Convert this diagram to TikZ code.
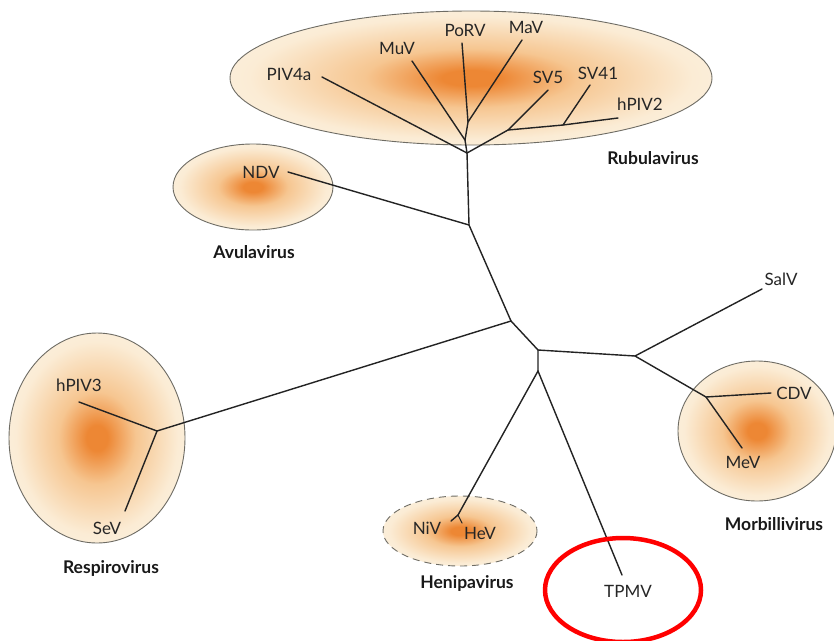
\documentclass[tikz,border=0pt]{standalone}
\usepackage{fontspec}
\setmainfont{Lato}
\definecolor{cOr}{RGB}{237,135,52}
\definecolor{cMid}{RGB}{246,198,145}
\definecolor{cCream}{RGB}{251,236,213}
\definecolor{cEdge}{RGB}{252,245,232}
\definecolor{cRim}{RGB}{110,108,100}
\definecolor{cLine}{RGB}{35,35,35}
\pgfdeclareradialshading{blob}{\pgfpoint{0bp}{0bp}}{color(0bp)=(cOr); color(3bp)=(cOr); color(11bp)=(cMid); color(23bp)=(cCream); color(35bp)=(cEdge); color(50bp)=(cEdge)}
\tikzset{
  clade/.style={draw=cRim, line width=0.9pt, shade, shading=blob},
  branch/.style={draw=cLine, line width=1.4pt, line join=round, line cap=round},
  taxon/.style={font=\fontsize{17}{19}\selectfont, text=black!85, inner sep=0pt},
  genus/.style={font=\fontsize{17.5}{20}\selectfont\bfseries, text=black!90, inner sep=0pt},
  redring/.style={draw=red, line width=4.5pt}
}
\begin{document}
\begin{tikzpicture}[x=1pt,y=-1pt]
\useasboundingbox (0,0) rectangle (834,640);
\fill[white] (0,0) rectangle (834,640);

% clade ellipses
\path[clade] (471,78) ellipse [x radius=241, y radius=67];
\path[clade] (253,187) ellipse [x radius=80, y radius=43];
\path[clade] (97,438) ellipse [x radius=88, y radius=105];
\path[clade, dashed, dash pattern=on 7pt off 5pt] (460,531) ellipse [x radius=77, y radius=35];
\path[clade] (757,431) ellipse [x radius=79, y radius=70];

% junctions
\coordinate (A) at (511,321);
\coordinate (B) at (469,225);
\coordinate (C) at (467,153);
\coordinate (C1) at (465,140);
\coordinate (C2) at (468,122);
\coordinate (C3) at (508,130);
\coordinate (C4) at (563,125);
\coordinate (D) at (538,350);
\coordinate (E) at (538,371);
\coordinate (F) at (635,356);
\coordinate (G) at (706,397);
\coordinate (H) at (157,431);
\coordinate (J) at (458,515);

% tips
\coordinate (tPIV4a) at (322,77);
\coordinate (tMuV) at (412,61);
\coordinate (tPoRV) at (462,43);
\coordinate (tMaV) at (522,40);
\coordinate (tSV5) at (548,90);
\coordinate (tSV41) at (590,85);
\coordinate (thPIV2) at (618,118);
\coordinate (tNDV) at (288,172);
\coordinate (tSalV) at (762,289);
\coordinate (tCDV) at (771,393);
\coordinate (tMeV) at (742,448);
\coordinate (thPIV3) at (79,402);
\coordinate (tSeV) at (125,511);
\coordinate (tNiV) at (451,521);
\coordinate (tHeV) at (462,523);
\coordinate (tTPMV) at (622,575);

% branches
\draw[branch] (A) -- (B) -- (C);
\draw[branch] (C) -- (C1) -- (C2) -- (tPoRV);
\draw[branch] (C2) -- (tMaV);
\draw[branch] (C1) -- (tMuV);
\draw[branch] (C) -- (tPIV4a);
\draw[branch] (C) -- (C3) -- (tSV5);
\draw[branch] (C3) -- (C4) -- (thPIV2);
\draw[branch] (C4) -- (tSV41);
\draw[branch] (B) -- (tNDV);
\draw[branch] (A) -- (D) -- (E);
\draw[branch] (D) -- (F) -- (tSalV);
\draw[branch] (F) -- (G) -- (tCDV);
\draw[branch] (G) -- (tMeV);
\draw[branch] (A) -- (H) -- (thPIV3);
\draw[branch] (H) -- (tSeV);
\draw[branch] (E) -- (J) -- (tNiV);
\draw[branch, line width=1.1pt] (J) -- (tHeV);
\draw[branch] (E) -- (tTPMV);

% taxon labels
\node[taxon] (PIV4a) at (289,74) {PIV4a};
\node[taxon] (MuV) at (397,48) {MuV};
\node[taxon] (PoRV) at (465,30) {PoRV};
\node[taxon] (MaV) at (526,27) {MaV};
\node[taxon] (SV5) at (548,77) {SV5};
\node[taxon] (SV41) at (598,73) {SV41};
\node[taxon] (hPIV2) at (640,104) {hPIV2};
\node[taxon] (NDV) at (261,172) {NDV};
\node[taxon] (SalV) at (781,279) {SalV};
\node[taxon] (CDV) at (794,393) {CDV};
\node[taxon] (MeV) at (743,462) {MeV};
\node[taxon] (hPIV3) at (79,385) {hPIV3};
\node[taxon] (SeV) at (107,528) {SeV};
\node[taxon] (NiV) at (427,528) {NiV};
\node[taxon] (HeV) at (480,533) {HeV};
\node[taxon] (TPMV) at (628,591) {TPMV};

% genus labels
\node[genus] (Rubula) at (653,158) {Rubulavirus};
\node[genus] (Avula) at (254,252) {Avulavirus};
\node[genus] (Respiro) at (111,568) {Respirovirus};
\node[genus] (Henipa) at (467,583) {Henipavirus};
\node[genus] (Morbilli) at (774,524) {Morbillivirus};

% red highlight ring
\draw[redring] (TPMV) ++(-5,-1) ellipse [x radius=78, y radius=52];
\end{tikzpicture}
\end{document}
